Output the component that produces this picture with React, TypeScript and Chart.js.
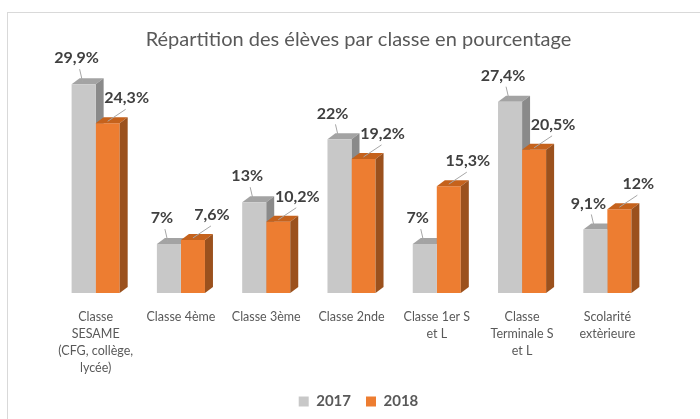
import React, { useEffect, useRef } from "react";
import { Chart, registerables } from "chart.js";

Chart.register(...registerables);

const chartTitle = "Répartition des élèves par classe en pourcentage";
const categories: string[][] = [
  ["Classe", "SESAME", "(CFG, collège,", "lycée)"],
  ["Classe 4ème"],
  ["Classe 3ème"],
  ["Classe 2nde"],
  ["Classe 1er S", "et L"],
  ["Classe", "Terminale S", "et L"],
  ["Scolarité", "extèrieure"],
];
const seriesNames = ["2017", "2018"];
const values2017 = [29.9, 7, 13, 22, 7, 27.4, 9.1];
const values2018 = [24.3, 7.6, 10.2, 19.2, 15.3, 20.5, 12];

const FONT = "Lato";
const FRONT = ["#c8c8c8", "#ed7d31"];
const TOP = ["#a3a3a3", "#c5621c"];
const SIDE = ["#8a8a8a", "#9b511d"];
const DX = 8;
const DY = 6;
// label offset relative to the bar's top centre, per series
const LABEL_OFF = [
  { dx: -7, dy: -26 },
  { dx: 19, dy: -25 },
];
const BLOCK_SHIFT = 7; // title & legend are centred a little right of the plot

const fmt = (v: number) => String(v).replace(".", ",") + "%";

function drawFaces(ctx: CanvasRenderingContext2D, el: any, di: number) {
  const l = el.x - el.width / 2;
  const r = el.x + el.width / 2;
  const t = el.y;
  const b = el.base;
  ctx.fillStyle = TOP[di];
  ctx.beginPath();
  ctx.moveTo(l, t);
  ctx.lineTo(l + DX, t - DY);
  ctx.lineTo(r + DX, t - DY);
  ctx.lineTo(r, t);
  ctx.closePath();
  ctx.fill();
  ctx.fillStyle = SIDE[di];
  ctx.beginPath();
  ctx.moveTo(r, t);
  ctx.lineTo(r + DX, t - DY);
  ctx.lineTo(r + DX, b - DY);
  ctx.lineTo(r, b);
  ctx.closePath();
  ctx.fill();
}

const bars3d = {
  id: "bars3d",
  afterLayout(chart: any) {
    [chart.titleBlock, chart.legend].forEach((b: any) => {
      if (b) {
        b.left += BLOCK_SHIFT;
        b.right += BLOCK_SHIFT;
      }
    });
  },
  beforeDatasetsDraw(chart: any) {
    const ctx = chart.ctx;
    ctx.save();
    chart.getDatasetMeta(0).data.forEach((el: any) => drawFaces(ctx, el, 0));
    ctx.restore();
  },
  afterDatasetsDraw(chart: any) {
    const ctx = chart.ctx;
    ctx.save();
    chart.getDatasetMeta(1).data.forEach((el: any) => drawFaces(ctx, el, 1));
    [0, 1].forEach((di) => {
      const ds = chart.data.datasets[di];
      chart.getDatasetMeta(di).data.forEach((el: any, i: number) => {
        const lx = el.x + LABEL_OFF[di].dx;
        const ly = el.y + LABEL_OFF[di].dy;
        ctx.strokeStyle = "#a6a6a6";
        ctx.lineWidth = 1;
        ctx.beginPath();
        ctx.moveTo(lx + (di === 0 ? 3 : -1), ly + 11);
        ctx.lineTo(el.x + (di === 0 ? -1 : 0), el.y - 2);
        ctx.stroke();
        ctx.font = `bold 16px ${FONT}`;
        ctx.fillStyle = "#404040";
        ctx.textAlign = "center";
        ctx.textBaseline = "middle";
        ctx.fillText(fmt(ds.data[i]), lx, ly);
      });
    });
    ctx.restore();
  },
};

export default function App() {
  const ref = useRef<HTMLCanvasElement | null>(null);
  useEffect(() => {
    if (!ref.current) return;
    Chart.defaults.font.family = FONT;
    const chart = new Chart(ref.current, {
      type: "bar",
      data: {
        labels: categories,
        datasets: [
          {
            label: seriesNames[0],
            data: values2017,
            backgroundColor: FRONT[0],
            borderWidth: 0,
            barPercentage: 1,
            categoryPercentage: 0.5636,
          },
          {
            label: seriesNames[1],
            data: values2018,
            backgroundColor: FRONT[1],
            borderWidth: 0,
            barPercentage: 1,
            categoryPercentage: 0.5636,
          },
        ],
      },
      options: {
        responsive: false,
        animation: false,
        events: [],
        layout: { padding: { left: 53, right: 50, top: 0, bottom: 0 } },
        scales: {
          y: { display: false, min: 0, max: 30 },
          x: {
            grid: { display: false, drawTicks: false },
            border: { display: false },
            afterFit: (s: any) => {
              s.height -= 13;
            },
            ticks: {
              color: "#595959",
              padding: 15.5,
              font: { family: FONT, size: 12.5, lineHeight: 17 / 12.5 },
              maxRotation: 0,
              autoSkip: false,
            },
          },
        },
        plugins: {
          tooltip: { enabled: false },
          title: {
            display: true,
            text: chartTitle,
            color: "#595959",
            font: { family: FONT, size: 20, weight: "normal" },
            padding: { top: 28, bottom: 31.5 },
          },
          legend: {
            position: "bottom",
            labels: {
              color: "#595959",
              boxWidth: 10,
              boxHeight: 10,
              padding: 15,
              font: { family: FONT, size: 15, weight: "bold" },
            },
          },
        },
      },
      plugins: [bars3d],
    });
    return () => chart.destroy();
  }, []);
  return (
    <div style={{ position: "fixed", left: 0, top: 0, width: 700, height: 419, background: "#fff", overflow: "hidden" }}>
      <div
        style={{
          position: "absolute",
          left: 7,
          top: 12,
          right: -5,
          bottom: -5,
          borderTop: "1px solid #d9d9d9",
          borderLeft: "1px solid #d9d9d9",
        }}
      />
      <canvas ref={ref} width={700} height={419} style={{ position: "absolute", left: 0, top: 0 }} />
    </div>
  );
}
